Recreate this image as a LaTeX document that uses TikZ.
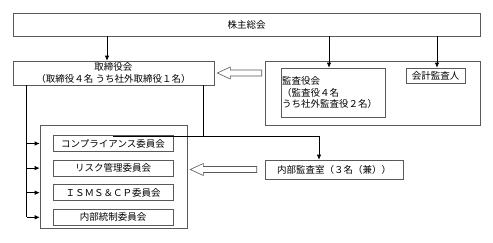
\documentclass[tikz,border=0pt]{standalone}
\usepackage{fontspec}
\setmainfont{Noto Sans CJK JP}
\usetikzlibrary{arrows.meta,positioning,calc}

% hollow block arrow pointing left: #1 tail, #2 tip
\newcommand{\hollowarrow}[2]{%
  \draw[frame, fill=white] let \p1=(#1), \p2=(#2) in
    (\p2) -- (\x2+13pt,\y2+6pt) -- (\x2+13pt,\y2+3pt) -- (\x1,\y2+3pt)
    -- (\x1,\y2-3pt) -- (\x2+13pt,\y2-3pt) -- (\x2+13pt,\y2-6pt) -- cycle;}

\begin{document}
\begin{tikzpicture}[
    x=1pt, y=-1pt,
    node distance=8pt,
    frame/.style={draw=black!65, line width=0.6pt},
    box/.style={frame, rectangle, inner sep=1pt, align=center, font=\fontsize{9.5}{11.5}\selectfont},
    committee/.style={box, minimum width=120pt, minimum height=16pt},
    arrow/.style={-{Latex[length=5pt,width=4.5pt]}, line width=0.7pt}
]
\useasboundingbox (0,0) rectangle (493,242);

% Top
\node[box, minimum width=467pt, minimum height=23pt] (soukai) at (246.5,24.5) {株主総会};

% Second row
\node[box, minimum width=201pt, minimum height=24pt] (torishimari) at (113.5,73) {取締役会\\（取締役４名 うち社外取締役１名）};
\node[frame, minimum width=215pt, minimum height=64pt] (kansa) at (372.5,93) {};
\node[box, align=left, text width=102pt, minimum height=49pt] (kansayaku) at (333,92.5) {監査役会\\（監査役４名\\うち社外監査役２名）};
\node[box, minimum width=59pt, minimum height=15pt] (kaikei) at (435.5,75.5) {会計監査人};

% Internal audit
\node[box, minimum width=138pt, minimum height=19pt] (kansho) at (334,169.5) {内部監査室（３名（兼））};

% Committees
\node[frame, minimum width=147pt, minimum height=103pt] (iinkai) at (113.5,176.5) {};
\node[committee] (comp) at (113,143.5) {コンプライアンス委員会};
\node[committee, below=of comp] (risk) {リスク管理委員会};
\node[committee, below=of risk] (isms) {ＩＳＭＳ＆ＣＰ委員会};
\node[committee, below=of isms] (naibu) {内部統制委員会};

% Arrows
\draw[arrow] ([xshift=-6.5]torishimari.north |- soukai.south) -- ([xshift=-6.5]torishimari.north);
\draw[arrow] ([xshift=-4]kansayaku.north |- soukai.south) -- ([xshift=-4]kansayaku.north);
\draw[arrow] ([xshift=1.5]kaikei.north |- soukai.south) -- ([xshift=1.5]kaikei.north);
\draw[arrow] ([xshift=-11]torishimari.south east) |- ([yshift=-1.5]comp.north) -| ([xshift=-15]kansho.north);
\draw[line width=0.7pt] ([xshift=14]torishimari.south west) -- ([xshift=14]torishimari.south west |- naibu);
\foreach \c in {comp,risk,isms,naibu}
  \draw[arrow] ([xshift=14]torishimari.south west |- \c) -- (iinkai.west |- \c);

\hollowarrow{[xshift=-3]kansa.west |- torishimari.east}{[xshift=3]torishimari.east}
\hollowarrow{[xshift=-8]kansho.west}{[xshift=3]iinkai.east |- kansho.west}

\end{tikzpicture}
\end{document}
